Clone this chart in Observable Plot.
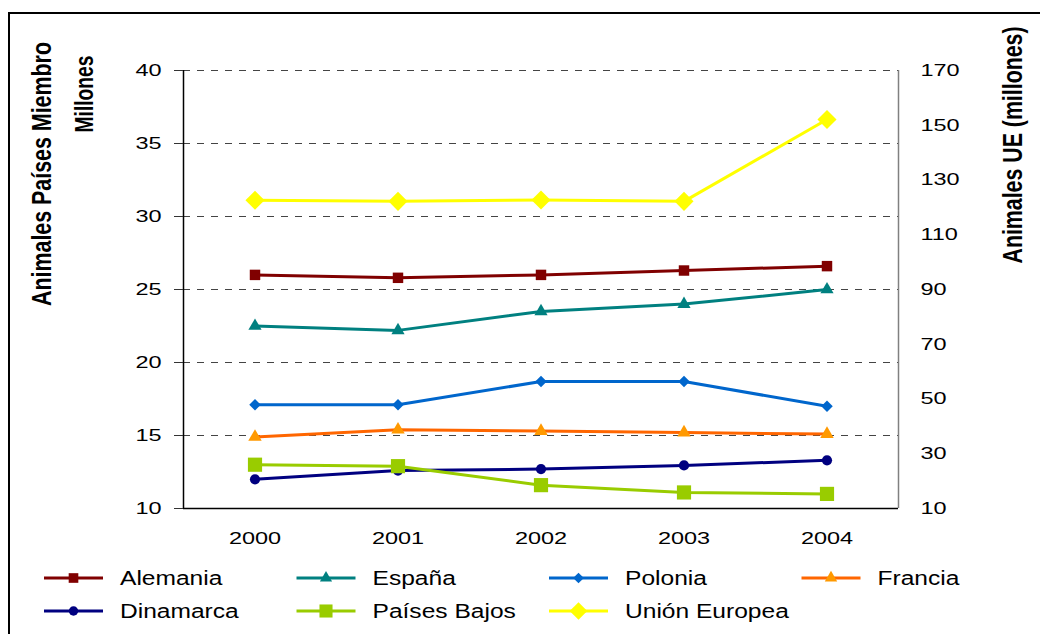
<!DOCTYPE html>
<html><head><meta charset="utf-8">
<script src="https://cdn.jsdelivr.net/npm/d3@7"></script>
<script src="https://cdn.jsdelivr.net/npm/@observablehq/plot@0.6"></script>
<style>
html,body{margin:0;padding:0;background:#fff;width:1040px;height:634px;overflow:hidden;}
#frame{position:absolute;left:8px;top:12px;width:1200px;height:800px;border-left:2px solid #000;border-top:2px solid #000;}
#chart{position:absolute;left:0;top:0;}
</style></head><body>
<div id="frame"></div>
<div id="chart"></div>
<script>
// ---- data ----
const years = [2000, 2001, 2002, 2003, 2004];
const alemania    = [26.0, 25.8, 26.0, 26.3, 26.6];
const espana      = [22.5, 22.2, 23.5, 24.0, 25.0];
const polonia     = [17.1, 17.1, 18.7, 18.7, 17.0];
const francia     = [14.9, 15.4, 15.3, 15.2, 15.1];
const dinamarca   = [12.0, 12.6, 12.7, 12.95, 13.3];
const paisesBajos = [13.0, 12.9, 11.6, 11.1, 11.0];
const unionEuropea = [122.6, 122.2, 122.7, 122.2, 152.1]; // right axis (millones)
const seriesNames = ["Alemania", "España", "Polonia", "Francia", "Dinamarca", "Países Bajos", "Unión Europea"];
const leftTicks  = [10, 15, 20, 25, 30, 35, 40];
const rightTicks = [10, 30, 50, 70, 90, 110, 130, 150, 170];
const gridValues = [15, 20, 25, 30, 35, 40];
const leftTitle = "Animales Países Miembro";
const leftSubTitle = "Millones";
const rightTitle = "Animales UE (millones)";

// ---- styles ----
const seriesValues = [alemania, espana, polonia, francia, dinamarca, paisesBajos, unionEuropea];
const seriesAxis = ["left","left","left","left","left","left","right"];
const lineColors   = ["#800000", "#008080", "#0066CC", "#FF6600", "#000080", "#99CC00", "#FFFF00"];
const markerColors = ["#800000", "#008080", "#0066CC", "#FF9900", "#000080", "#99CC00", "#FFFF00"];
const symbols = ["square", "triangle", "diamond2", "triangle", "circle", "square", "diamond2"];
const radii = [5.9, 4.9, 5.2, 5.0, 5.1, 8.0, 8.6];
const symbolMap = {square: d3.symbolSquare, triangle: d3.symbolTriangle, diamond2: d3.symbolDiamond2, circle: d3.symbolCircle};

const L0 = 10, L1 = 40, R0 = 10, R1 = 170;
const toLeft = r => L0 + (r - R0) * (L1 - L0) / (R1 - R0);
const toRight = l => R0 + (l - L0) * (R1 - R0) / (L1 - L0);

const marks = [
  Plot.ruleY(gridValues, {stroke: "#444", strokeWidth: 1.2, strokeDasharray: "7,7"}),
  Plot.ruleY([L0], {stroke: "#000", strokeWidth: 1.5}),
  Plot.ruleX([years[0] - 0.5], {stroke: "#000", strokeWidth: 1.5}),
  Plot.ruleX([years[years.length - 1] + 0.5], {stroke: "#808080", strokeWidth: 1.5}),
  Plot.axisY(leftTicks, {anchor: "left", tickSize: 9, tickPadding: 13, label: null, stroke: "#333"}),
  Plot.axisY(rightTicks.map(toLeft), {anchor: "right", tickSize: 0, tickPadding: 22, label: null,
    tickFormat: d => String(Math.round(toRight(d)))}),
  Plot.axisX(years, {anchor: "bottom", tickSize: 0, tickPadding: 23, label: null, tickFormat: d => String(d)})
];

seriesNames.forEach((name, k) => {
  const vals = seriesValues[k];
  const data = years.map((yr, i) => ({year: yr, value: seriesAxis[k] === "right" ? toLeft(vals[i]) : vals[i], series: name}));
  marks.push(Plot.line(data, {x: "year", y: "value", stroke: lineColors[k], strokeWidth: 3, strokeLinejoin: "round"}));
  marks.push(Plot.dot(data, {x: "year", y: "value", symbol: symbols[k], r: radii[k], fill: markerColors[k]}));
});

const svg = Plot.plot({
  width: 1040, height: 634,
  marginLeft: 183, marginRight: 142, marginTop: 70, marginBottom: 126,
  x: {type: "linear", domain: [years[0] - 0.5, years[years.length - 1] + 0.5]},
  y: {domain: [L0, L1]},
  style: {fontFamily: "'Liberation Sans', Arial, sans-serif", fontSize: "17px", color: "#000", background: "transparent", overflow: "visible"},
  marks
});

// horizontally widen tick labels like the original
d3.select(svg).selectAll("text").each(function() {
  const t = this.getAttribute("transform") || "";
  this.setAttribute("transform", t + " scale(1.38,1)");
});

const S = d3.select(svg);
function vtitle(txt, x, y, size, len, sx) {
  S.append("text")
    .attr("transform", `translate(${x},${y}) scale(${sx},1) rotate(-90)`)
    .attr("text-anchor", "middle")
    .attr("font-weight", "bold")
    .attr("font-size", size)
    .attr("textLength", len)
    .attr("lengthAdjust", "spacingAndGlyphs")
    .attr("fill", "#000")
    .text(txt);
}
vtitle(leftTitle, 51, 174, 21, 264, 1.3);
vtitle(leftSubTitle, 93, 94, 19, 77, 1.35);
vtitle(rightTitle, 1022, 145, 21, 237, 1.35);

// legend
const lg = S.append("g");
seriesNames.forEach((name, i) => {
  const col = i % 4, row = Math.floor(i / 4);
  const x0 = 44 + col * 252.5, y0 = 578 + row * 33;
  lg.append("line").attr("x1", x0).attr("x2", x0 + 59).attr("y1", y0).attr("y2", y0)
    .attr("stroke", lineColors[i]).attr("stroke-width", 3);
  lg.append("path").attr("d", d3.symbol(symbolMap[symbols[i]], Math.PI * radii[i] * radii[i] * 0.85)())
    .attr("transform", `translate(${x0 + 29.5},${y0})`).attr("fill", markerColors[i]);
  lg.append("text").attr("transform", `translate(${x0 + 76},${y0 + 7}) scale(1.17,1)`)
    .attr("text-anchor", "start")
    .attr("font-size", 21).attr("fill", "#000").text(name);
});

document.getElementById("chart").appendChild(svg);
</script>
</body></html>
